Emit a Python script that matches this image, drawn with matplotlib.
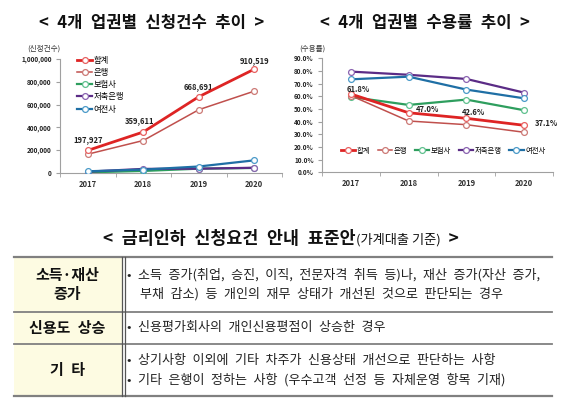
import matplotlib
matplotlib.use("Agg")
import matplotlib.pyplot as plt
from matplotlib.patches import Rectangle
from matplotlib.ticker import FuncFormatter, FixedLocator

plt.rcParams['font.family'] = ['Noto Sans CJK KR', 'DejaVu Sans']

years = ['2017', '2018', '2019', '2020']
series = ['합계', '은행', '보험사', '저축은행', '여전사']
colors = ['#de2424', '#c0504d', '#2e9e5e', '#5b2c86', '#1f6fa5']
edge_colors = ['#e86060', '#cc7a76', '#5fc08e', '#8a62b0', '#4a9ac8']

count_total = [197927, 359611, 668691, 910519]
count_bank = [165000, 285000, 555000, 718000]
count_insur = [6000, 18000, 38000, 44000]
count_savings = [12000, 36000, 38000, 46000]
count_card = [15000, 30000, 57000, 111000]

rate_total = [61.8, 47.0, 42.6, 37.1]
rate_bank = [60.5, 40.5, 37.6, 31.6]
rate_insur = [59.5, 53.2, 57.4, 49.0]
rate_savings = [79.5, 77.0, 73.7, 62.9]
rate_card = [73.4, 75.5, 65.3, 58.4]

count_labels = ['197,927', '359,611', '668,691', '910,519']
rate_labels = ['61.8%', '47.0%', '42.6%', '37.1%']

title_left = '< 4개 업권별 신청건수 추이 >'
title_right = '< 4개 업권별 수용률 추이 >'
table_title = '< 금리인하 신청요건 안내 표준안'
table_title_sub = '(가계대출 기준)'
row_heads = [['소득·재산', '증가'], ['신용도 상승'], ['기 타']]
row_bodies = [
    ['• 소득 증가(취업, 승진, 이직, 전문자격 취득 등)나, 재산 증가(자산 증가,',
     '  부채 감소) 등 개인의 재무 상태가 개선된 것으로 판단되는 경우'],
    ['• 신용평가회사의 개인신용평점이 상승한 경우'],
    ['• 상기사항 이외에 기타 차주가 신용상태 개선으로 판단하는 사항',
     '• 기타 은행이 정하는 사항 (우수고객 선정 등 자체운영 항목 기재)'],
]

EN = '\u2002'


def wide(s):
    return s.replace(' ', EN)


W, H = 580, 407
fig = plt.figure(figsize=(W / 100, H / 100), dpi=100)
renderer = fig.canvas.get_renderer()

ov = fig.add_axes([0, 0, 1, 1])
ov.set_xlim(0, W)
ov.set_ylim(H, 0)
ov.axis('off')


def text_width(s, **kw):
    t = ov.text(0, 0, s, **kw)
    w = t.get_window_extent(renderer=renderer).width
    t.remove()
    return w


ttl_kw = dict(fontsize=12, fontweight='bold', color='#111')
ov.text(152, 23, wide(title_left), ha='center', va='center', **ttl_kw)
ov.text(425, 23, wide(title_right), ha='center', va='center', **ttl_kw)

# table title (bold main part + smaller regular sub part)
main_kw = dict(fontsize=12.5, fontweight='bold', color='#111')
sub_kw = dict(fontsize=9.5, color='#111')
w_main = text_width(wide(table_title), **main_kw)
w_sub = text_width(table_title_sub, **sub_kw)
w_end = text_width(EN + '>', **main_kw)
x0 = 281 - (w_main + w_sub + w_end) / 2
ov.text(x0, 239, wide(table_title), ha='left', va='center', **main_kw)
ov.text(x0 + w_main, 239.5, table_title_sub, ha='left', va='center', **sub_kw)
ov.text(x0 + w_main + w_sub, 239, EN + '>', ha='left', va='center', **main_kw)

# table
tl, tr = 14, 552
rows = [257, 312, 344, 396]
ov.add_patch(Rectangle((tl, rows[0]), 108, rows[-1] - rows[0], facecolor='#fdfbe2',
                       edgecolor='none', zorder=0))
for i, y in enumerate(rows):
    lw = 1.6 if i in (0, len(rows) - 1) else 1.3
    ov.plot([tl, tr], [y, y], color='#808080', lw=lw, zorder=2)
ov.plot([122, 122], [rows[0], rows[-1]], color='#555', lw=0.9)
ov.plot([124.5, 124.5], [rows[0], rows[-1]], color='#555', lw=0.9)

hdr_kw = dict(ha='center', va='center', fontsize=10.8, fontweight='bold', color='#111')
body_kw = dict(ha='left', va='center', fontsize=9.4, color='#222')
line_gap = 19.5
for r in range(3):
    top, bot = rows[r], rows[r + 1]
    mid = (top + bot) / 2
    heads = row_heads[r]
    for k, h in enumerate(heads):
        ov.text(67, mid + (k - (len(heads) - 1) / 2) * line_gap, wide(h), **hdr_kw)
    body = row_bodies[r]
    for k, b in enumerate(body):
        ov.text(127, mid + (k - (len(body) - 1) / 2) * line_gap, wide(b), **body_kw)


def style_axes(ax):
    for s in ['top', 'right']:
        ax.spines[s].set_visible(False)
    for s in ['left', 'bottom']:
        ax.spines[s].set_color('#a0a0a0')
        ax.spines[s].set_linewidth(0.8)
    ax.set_xlim(-0.5, 3.5)
    ax.set_xticks(range(4))
    ax.set_xticklabels(years)
    ax.xaxis.set_minor_locator(FixedLocator([-0.5, 0.5, 1.5, 2.5, 3.5]))
    ax.tick_params(axis='x', which='major', length=0, labelsize=5.5, pad=5, labelcolor='#333')
    ax.tick_params(axis='x', which='minor', length=3, color='#a0a0a0')
    ax.tick_params(axis='y', length=3, color='#a0a0a0', labelsize=4.6, labelcolor='#222', pad=3)
    for lab in ax.get_xticklabels():
        lab.set_fontweight('bold')
    for lab in ax.get_yticklabels():
        lab.set_fontweight('bold')
    ax.set_facecolor('white')


order = [2, 3, 4, 1, 0]
widths = [2.0, 1.1, 1.6, 1.6, 1.6]

# ---- left chart ----
ax1 = fig.add_axes([60 / W, 1 - 173 / H, 222 / W, 114 / H])
count_series = [count_total, count_bank, count_insur, count_savings, count_card]
handles = {}
for i in order:
    ln, = ax1.plot(range(4), count_series[i], color=colors[i], lw=widths[i], marker='o', ms=4.2,
                   mfc='white', mec=edge_colors[i], mew=0.9, zorder=3 + (i == 0))
    handles[i] = ln
ax1.set_ylim(0, 1000000)
ax1.set_yticks([0, 200000, 400000, 600000, 800000, 1000000])
ax1.yaxis.set_major_formatter(FuncFormatter(lambda v, p: f'{int(v):,}'))
style_axes(ax1)
ax1.text(0.0, 1.06, '(신청건수)', transform=ax1.transAxes, ha='right', va='bottom',
         fontsize=5.5, color='#333')
offsets = [(0, 7.5), (-2.5, 8), (0, 7.2), (0, 6.5)]
for x, (v, s) in enumerate(zip(count_total, count_labels)):
    ax1.annotate(s, (x, v), textcoords='offset points', xytext=offsets[x], ha='center',
                 va='center', fontsize=5.5, color='#222', fontweight='bold')
ax1.legend([handles[i] for i in range(5)], series, loc='upper left',
           bbox_to_anchor=(0.077, 1.03), frameon=False, fontsize=6,
           handlelength=1.8, labelspacing=0.39, borderpad=0, borderaxespad=0,
           handletextpad=0.15)

# ---- right chart ----
ax2 = fig.add_axes([322 / W, 1 - 172.3 / H, 231 / W, 114 / H])
rate_series = [rate_total, rate_bank, rate_insur, rate_savings, rate_card]
handles2 = {}
for i in order:
    ln, = ax2.plot(range(4), rate_series[i], color=colors[i], lw=widths[i], marker='o', ms=4.2,
                   mfc='white', mec=edge_colors[i], mew=0.9, zorder=3 + (i == 0))
    handles2[i] = ln
ax2.set_ylim(0, 90)
ax2.set_yticks(range(0, 91, 10))
ax2.yaxis.set_major_formatter(FuncFormatter(lambda v, p: f'{v:.1f}%'))
style_axes(ax2)
ax2.text(0.015, 1.05, '(수용률)', transform=ax2.transAxes, ha='right', va='bottom',
         fontsize=5.5, color='#333')
r_off = [((5.4, 3.4), 'center'), ((5, 2.2), 'left'), ((5.4, 4.3), 'center'), ((8, 1.4), 'left')]
for x, (v, s) in enumerate(zip(rate_total, rate_labels)):
    off, ha = r_off[x]
    ax2.annotate(s, (x, v), textcoords='offset points', xytext=off, ha=ha, va='center',
                 fontsize=5.5, color='#222', fontweight='bold', zorder=6)
ax2.legend([handles2[i] for i in range(5)], series, loc='center', ncol=5,
           bbox_to_anchor=(0.524, 0.19), frameon=False, fontsize=5.3, handlelength=2.0,
           columnspacing=1.0, handletextpad=0.2, borderpad=0, borderaxespad=0)

fig.savefig('out.png', dpi=100)
